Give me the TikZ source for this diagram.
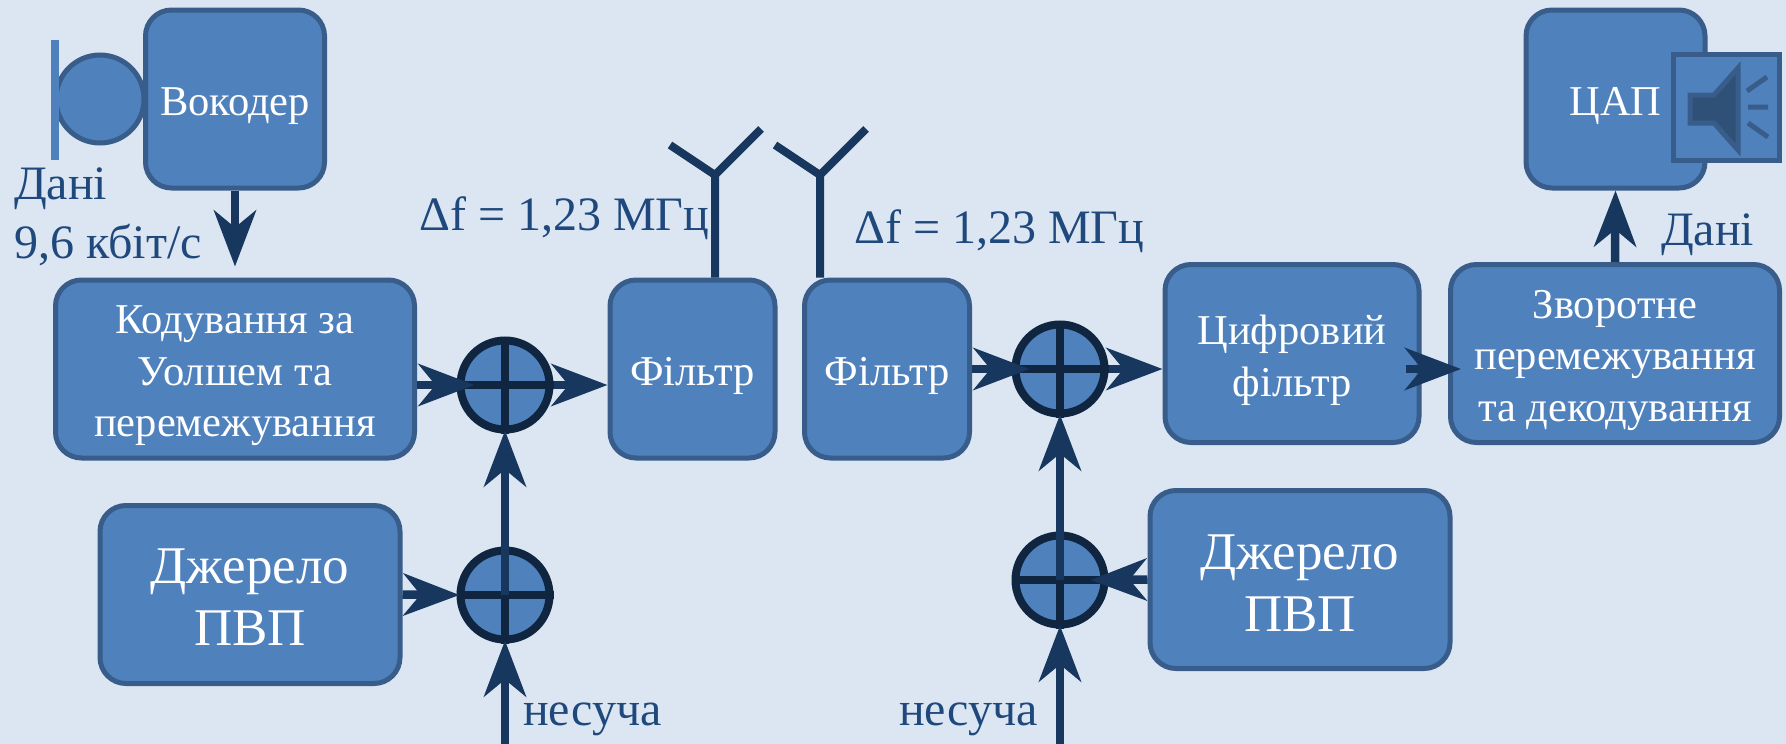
\documentclass[tikz,border=0pt]{standalone}
\usepackage{fontspec}
\setmainfont{Liberation Serif}
\usetikzlibrary{arrows.meta,calc}
\definecolor{bgc}{HTML}{DCE6F2}
\definecolor{boxf}{HTML}{4F81BD}
\definecolor{boxd}{HTML}{385D8A}
\definecolor{arr}{HTML}{17375E}
\definecolor{ringc}{HTML}{10253F}
\definecolor{lab}{HTML}{1F497D}
\definecolor{spk}{HTML}{2F5077}
\newcommand{\lowr}[1]{\rule{0pt}{#1pt}}
\tikzset{
  x=1pt,y=-1pt,
  blockbox/.style={draw=boxd,fill=boxf,line width=5pt,rounded corners=26pt,inner sep=0pt,align=center,text=white,font=\fontsize{42.5}{51.5}\selectfont},
  bigbox/.style={blockbox,font=\fontsize{53}{62}\selectfont},
  sumcircle/.style={circle,draw=ringc,fill=boxf,line width=8pt,minimum size=89pt,inner sep=0pt},
  crossline/.style={draw=ringc,line width=8pt},
  flow/.style={draw=arr,line width=8.5pt,-{Stealth[length=56pt,width=42pt,inset=17pt]}},
  lbl/.style={anchor=base west,text=lab,inner sep=0pt,font=\fontsize{48}{56}\selectfont},
  antenna/.style={draw=arr,line width=8pt},
}
\begin{document}
\begin{tikzpicture}
\useasboundingbox[fill=bgc] (0,0) rectangle (1786,744);
% microphone
\node[circle,draw=boxd,fill=boxf,line width=5pt,minimum size=88pt,inner sep=0pt] (mic) at (100,99) {};
\node[fill=boxf,minimum width=8pt,minimum height=120pt,inner sep=0pt] (micbar) at (55,100) {};
% boxes
\node[blockbox,minimum width=179pt,minimum height=178pt] (voc) at (235,99) {\lowr{42}Вокодер};
\node[blockbox,minimum width=359pt,minimum height=178pt] (cod) at (235,369) {\lowr{42}Кодування за\\Уолшем та\\перемежування};
\node[bigbox,minimum width=300pt,minimum height=178pt] (pvpl) at (250,594.5) {\lowr{40}Джерело\\ПВП};
\node[blockbox,minimum width=165pt,minimum height=178pt] (fl) at (692.5,369) {\lowr{42}Фільтр};
\node[blockbox,minimum width=165pt,minimum height=178pt] (fr) at (887,369) {\lowr{42}Фільтр};
\node[blockbox,minimum width=254pt,minimum height=178pt] (dig) at (1292,353.5) {\lowr{43}Цифровий\\фільтр};
\node[blockbox,minimum width=329pt,minimum height=178pt] (rev) at (1615,353.5) {\lowr{42}Зворотне\\перемежування\\та декодування};
\node[bigbox,minimum width=300pt,minimum height=178pt] (pvpr) at (1300,579.5) {\lowr{42}Джерело\\ПВП};
\node[blockbox,minimum width=179pt,minimum height=178pt] (dac) at (1615.5,99) {\lowr{42}ЦАП};
% speaker
\node[draw=boxd,fill=boxf,line width=5pt,minimum width=106pt,minimum height=106pt,inner sep=0pt] (spkbox) at (1726,107) {};
\draw[draw=boxd,fill=spk,line width=5pt,line join=miter] (1690,95) -- (1714,95) -- (1738,68) -- (1738,150) -- (1714,123) -- (1690,123) -- cycle;
\draw[draw=boxd,line width=5pt] (1747,91) -- (1767,77) (1748,107) -- (1768,107) (1748,123) -- (1768,137);
% adders
\node[sumcircle] (s1) at (505,385) {};
\node[sumcircle] (s2) at (505,595) {};
\node[sumcircle] (s3) at (1060,369) {};
\node[sumcircle] (s4) at (1060,580) {};
\foreach \s in {s1,s2,s3,s4}{
  \draw[crossline] (\s.north) -- (\s.south) (\s.west) -- (\s.east);
}
% free ends
\coordinate (c1) at (505,744);
\coordinate (c2) at (1060,744);
% connectors
\draw[flow] (voc.south) -- ($(voc.south)+(0,76)$);
\draw[flow] (cod.east |- s1) -- ($(s1.west)+(18,0)$);
\draw[flow] (s1.east) -- (fl.west |- s1);
\draw[flow] (pvpl.east) -- ($(s2.west)+(3,0)$);
\draw[flow] (s2.center) -- ($(s1.south)+(0,-3)$);
\draw[flow] (c1) -- ($(s2.south)+(0,-3)$);
\draw[flow] (fr.east |- s3) -- ($(s3.west)+(18,0)$);
\draw[flow] (s3.east) -- (dig.west |- s3);
\draw[flow] (s4.center) -- ($(s3.south)+(0,-3)$);
\draw[flow] (c2) -- ($(s4.south)+(0,-3)$);
\draw[flow] (pvpr.west) -- ($(s4.east)+(-18,0)$);
\draw[flow] ($(dig.east |- s3)+(-16,0)$) -- ($(rev.west |- s3)+(13,0)$);
\draw[flow] (rev.north) -- (dac.south);
% antennas
\coordinate (a1) at (715,175);
\coordinate (a2) at (820,175);
\draw[antenna] (fl.north -| a1) -- (a1) (670,145) -- (a1) -- (761,129);
\draw[antenna] (fr.north -| a2) -- (a2) (775,145) -- (a2) -- (866,129);
% labels
\node[lbl] (t1) at (14,199) {Дані};
\node[lbl] (t2) at (14,258) {9,6 кбіт/с};
\node[lbl] (t3) at (419,230) {Δf = 1,23 МГц};
\node[lbl] (t4) at (854,243) {Δf = 1,23 МГц};
\node[lbl] (t5) at (1661,245) {Дані};
\node[lbl] (t6) at (523,725) {несуча};
\node[lbl] (t7) at (899,725) {несуча};
\end{tikzpicture}
\end{document}
